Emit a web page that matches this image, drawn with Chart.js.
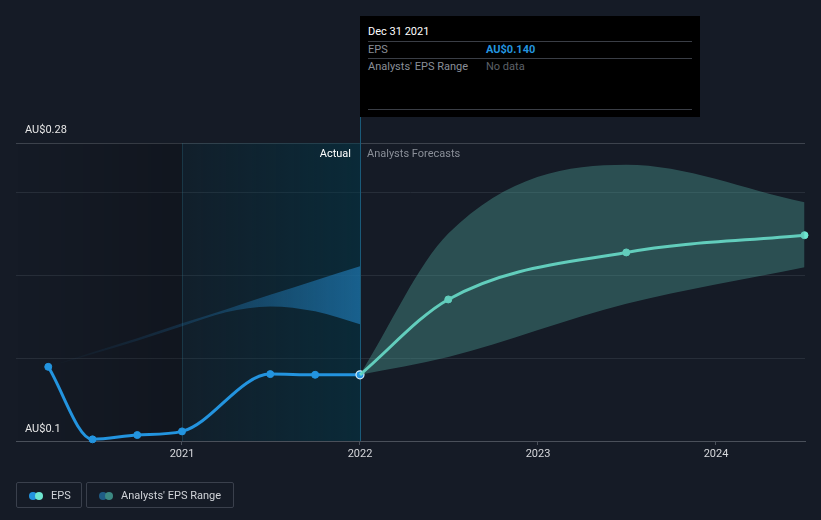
<!DOCTYPE html>
<html>
<head>
<meta charset="utf-8">
<script src="https://cdn.jsdelivr.net/npm/chart.js@4.4.1/dist/chart.umd.min.js"></script>
<style>
  html, body { margin: 0; padding: 0; background: #151b26; }
  body { width: 821px; height: 520px; position: relative; overflow: hidden; font-family: Roboto, "Noto Sans", sans-serif; }
  #chart { position: absolute; left: 0; top: 0; }
  .tip { position: absolute; left: 360px; top: 16px; width: 340px; height: 101px; background: #000; font-size: 11px; }
  .tip .row { position: absolute; left: 8px; right: 8px; height: 17px; line-height: 17px; }
  .tip .sep { position: absolute; left: 8px; right: 8px; height: 1px; background: #3a3e46; }
  .tip .val { position: absolute; left: 118px; top: 0; }
  .legend { position: absolute; top: 482px; height: 26px; border: 1px solid #3a404c; border-radius: 2px;
            color: #d0d3d8; font-size: 11px; line-height: 26px; box-sizing: border-box; }
  .legend .dot { position: absolute; top: 9px; width: 8px; height: 8px; border-radius: 50%; }
</style>
</head>
<body>
<canvas id="chart" width="821" height="520"></canvas>

<div class="tip">
  <div class="row" style="top:7px;color:#fff">Dec 31 2021</div>
  <div class="sep" style="top:25px"></div>
  <div class="row" style="top:25px;color:#8a8f98">EPS<span class="val" style="color:#2394df;font-weight:bold">AU$0.140</span></div>
  <div class="sep" style="top:42px"></div>
  <div class="row" style="top:42px;color:#8a8f98">Analysts' EPS Range<span class="val" style="color:#5d6168">No data</span></div>
  <div class="sep" style="top:93px"></div>
</div>

<div class="legend" style="left:16px;width:66px">
  <span class="dot" style="left:12px;background:#2394df"></span>
  <span class="dot" style="left:18px;background:#6ee6d0"></span>
  <span style="position:absolute;left:34px">EPS</span>
</div>
<div class="legend" style="left:86px;width:148px">
  <span class="dot" style="left:12px;background:#1f5c85"></span>
  <span class="dot" style="left:18px;background:#3c8882"></span>
  <span style="position:absolute;left:34px">Analysts' EPS Range</span>
</div>

<script>
// EPS history (AU$)
const epsDates = ['2020-03-31', '2020-06-30', '2020-09-30', '2020-12-31', '2021-06-30', '2021-09-30', '2021-12-31'];
const epsValues = [0.1448, 0.1010, 0.1036, 0.1058, 0.1404, 0.1400, 0.140];

// past analyst range
const pastRangeDates = ['2020-03-31', '2020-06-30', '2020-09-30', '2020-12-31', '2021-03-31', '2021-06-30', '2021-09-30', '2021-12-31'];
const pastRangeHigh = [0.1448, 0.1536, 0.1620, 0.1711, 0.1795, 0.1883, 0.1970, 0.2056];
const pastRangeLow = [0.1448, 0.1525, 0.1605, 0.1693, 0.1777, 0.1813, 0.1783, 0.1705];

// forecasts
const forecastDates = ['2021-12-31', '2022-06-30', '2023-06-30', '2024-06-30'];
const forecastValues = [0.140, 0.1855, 0.2139, 0.2243];
const forecastHigh = [0.140, 0.2253, 0.2669, 0.2442];
const forecastLow = [0.140, 0.1508, 0.1829, 0.2050];

const yearTicks = [2021, 2022, 2023, 2024];
const yGridValues = [0.1, 0.15, 0.2, 0.25, 0.28];
const splitYear = 2022; // end of actual data

function toYear(s) {
    const [y, m, d] = s.split('-').map(Number);
    const start = Date.UTC(y, 0, 1), end = Date.UTC(y + 1, 0, 1);
    return y + (Date.UTC(y, m - 1, d + 1) - start) / (end - start);
}
const pts = (dates, vals) => dates.map((d, i) => ({ x: toYear(d), y: vals[i] }));

const bgPlugin = {
    id: 'bg',
    beforeDatasetsDraw(chart) {
        const { ctx, chartArea: a, scales: { x } } = chart;
        const x21 = x.getPixelForValue(2021), x22 = x.getPixelForValue(splitYear);
        ctx.save();
        let g = ctx.createLinearGradient(a.left, 0, x21, 0);
        g.addColorStop(0, 'rgba(0,0,0,0)');
        g.addColorStop(1, 'rgba(0,0,0,0.18)');
        ctx.fillStyle = g;
        ctx.fillRect(a.left, a.top, x21 - a.left, a.bottom - a.top);
        g = ctx.createLinearGradient(x21, 0, x22, 0);
        g.addColorStop(0, 'rgba(0,57,74,0.15)');
        g.addColorStop(1, 'rgba(0,57,74,0.5)');
        ctx.fillStyle = g;
        ctx.fillRect(x21, a.top, x22 - x21, a.bottom - a.top);
        ctx.strokeStyle = 'rgba(40,100,120,0.35)';
        ctx.lineWidth = 1;
        ctx.beginPath();
        ctx.moveTo(Math.round(x21) + 0.5, a.top);
        ctx.lineTo(Math.round(x21) + 0.5, a.bottom);
        ctx.stroke();
        ctx.strokeStyle = '#1a5a78';
        ctx.beginPath();
        ctx.moveTo(Math.round(x22) + 0.5, 16);
        ctx.lineTo(Math.round(x22) + 0.5, a.bottom);
        ctx.stroke();
        ctx.restore();
    },
    afterDraw(chart) {
        const { ctx, chartArea: a, scales: { x, y } } = chart;
        const x22 = x.getPixelForValue(splitYear);
        ctx.save();
        ctx.font = '11px Roboto';
        ctx.textBaseline = 'middle';
        ctx.fillStyle = '#e6e6e6';
        ctx.fillText('AU$0.28', 25, y.getPixelForValue(0.28) - 13);
        ctx.fillText('AU$0.1', 25, y.getPixelForValue(0.1) - 12);
        ctx.textAlign = 'right';
        ctx.fillStyle = '#ffffff';
        ctx.fillText('Actual', x22 - 9, a.top + 11);
        ctx.textAlign = 'left';
        ctx.fillStyle = '#8a8f98';
        ctx.fillText('Analysts Forecasts', x22 + 7, a.top + 11);
        ctx.restore();
    }
};

const pastFill = (context) => {
    const { ctx, chartArea, scales } = context.chart;
    if (!chartArea) return 'rgba(30,110,165,0.6)';
    const g = ctx.createLinearGradient(scales.x.getPixelForValue(toYear(pastRangeDates[0])), 0, scales.x.getPixelForValue(splitYear), 0);
    g.addColorStop(0, 'rgba(30,110,165,0)');
    g.addColorStop(0.4, 'rgba(30,110,165,0.25)');
    g.addColorStop(1, 'rgba(30,115,170,0.75)');
    return g;
};

new Chart(document.getElementById('chart'), {
    type: 'line',
    data: {
        datasets: [
            {
                label: 'pastHigh',
                data: pts(pastRangeDates, pastRangeHigh),
                borderWidth: 0, pointRadius: 0, fill: '+1',
                backgroundColor: pastFill,
                cubicInterpolationMode: 'monotone'
            },
            {
                label: 'pastLow',
                data: pts(pastRangeDates, pastRangeLow),
                borderWidth: 0, pointRadius: 0, fill: false,
                cubicInterpolationMode: 'monotone'
            },
            {
                label: 'forecastHigh',
                data: pts(forecastDates, forecastHigh),
                borderWidth: 0, pointRadius: 0, fill: '+1',
                backgroundColor: 'rgba(80,165,155,0.38)',
                cubicInterpolationMode: 'monotone'
            },
            {
                label: 'forecastLow',
                data: pts(forecastDates, forecastLow),
                borderWidth: 0, pointRadius: 0, fill: false,
                cubicInterpolationMode: 'monotone'
            },
            {
                label: 'EPS forecast',
                data: pts(forecastDates, forecastValues),
                borderColor: '#6ee6d0', backgroundColor: '#6ee6d0',
                borderWidth: 3, pointRadius: [0, 3.5, 3.5, 3.5], pointBorderWidth: 1,
                cubicInterpolationMode: 'monotone', clip: false
            },
            {
                label: 'EPS',
                data: pts(epsDates, epsValues),
                borderColor: '#2394df', backgroundColor: '#2394df',
                borderWidth: 3,
                pointRadius: epsDates.map((d, i) => i === epsDates.length - 1 ? 4 : 3.5),
                pointBorderWidth: epsDates.map((d, i) => i === epsDates.length - 1 ? 1.2 : 1),
                pointBorderColor: epsDates.map((d, i) => i === epsDates.length - 1 ? '#d8eefa' : '#2394df'),
                cubicInterpolationMode: 'monotone', clip: false
            }
        ]
    },
    options: {
        responsive: false,
        animation: false,
        layout: { padding: { top: 143, right: 16, left: 0, bottom: 0 } },
        plugins: { legend: { display: false }, tooltip: { enabled: false } },
        scales: {
            x: {
                type: 'linear',
                min: 2021 - 166 / 178,
                max: 2024.5,
                afterFit: s => { s.height = 79; },
                afterBuildTicks: s => { s.ticks = yearTicks.map(v => ({ value: v })); },
                ticks: {
                    color: '#d6d8dc', font: { family: 'Roboto', size: 11 }, padding: 3,
                    callback: v => String(v), maxRotation: 0
                },
                grid: { drawOnChartArea: false, drawTicks: true, tickLength: 4, color: '#4a505a' },
                border: { color: '#4a505a', width: 1 }
            },
            y: {
                min: 0.1,
                max: 0.28,
                afterFit: s => { s.width = 16; },
                afterBuildTicks: s => { s.ticks = yGridValues.map(v => ({ value: v })); },
                ticks: { display: false },
                grid: {
                    drawTicks: false,
                    color: c => c.tick.value === 0.28 ? '#3d434d' : (c.tick.value === 0.1 ? 'rgba(0,0,0,0)' : '#272e39')
                },
                border: { display: false }
            }
        }
    },
    plugins: [bgPlugin]
});
</script>
</body>
</html>
